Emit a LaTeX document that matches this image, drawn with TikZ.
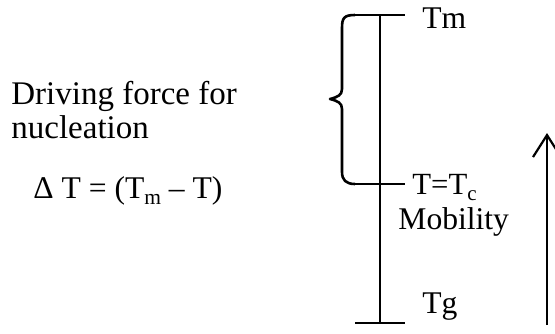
\documentclass[tikz,border=0pt]{standalone}
\usepackage{fontspec}
\setmainfont{Liberation Serif}
\usetikzlibrary{arrows.meta}
\newcommand{\lowsub}[1]{\raisebox{-0.22em}{\fontsize{0.68em}{1em}\selectfont #1}}
\tikzset{
  lbl/.style={anchor=base west, inner sep=0pt, font=\fontsize{15.8pt}{19pt}\selectfont},
  lblbig/.style={anchor=base west, inner sep=0pt, font=\fontsize{16.5pt}{19pt}\selectfont},
  lblsmall/.style={anchor=base west, inner sep=0pt, font=\fontsize{15.4pt}{18pt}\selectfont},
  bar/.style={line width=1.4pt},
  bracestyle/.style={line width=1.3pt, line join=round},
  updir/.style={line width=1.1pt, -{Straight Barb[length=11pt,width=14pt,line width=1.1pt]}}
}
\begin{document}
\begin{tikzpicture}[x=0.5pt,y=-0.5pt]
\useasboundingbox (0,0) rectangle (555,333);
% coordinates
\coordinate (top) at (380,15);
\coordinate (bot) at (380,323);
\coordinate (tl) at (355,15);  \coordinate (tr) at (405,15);
\coordinate (ml) at (355,184); \coordinate (mr) at (405,184);
\coordinate (bl) at (355,323); \coordinate (br) at (405,323);
\coordinate (a0) at (547,325); \coordinate (a1) at (547,133);
% main scale
\draw[bar] (top) -- (bot);
\draw[bar] (tl) -- (tr);
\draw[bar] (ml) -- (mr);
\draw[bar] (bl) -- (br);
% brace
\draw[bracestyle] (tl) .. controls (344,15) and (342,18) .. (342,28)
  -- (342,89) .. controls (342,95) and (338,97) .. (330,99)
  .. controls (338,101) and (342,103) .. (342,109)
  -- (342,172) .. controls (342,180) and (346,184) .. (ml);
% arrow
\draw[updir] (a0) -- (a1);
% labels
\node[lblbig] (t1) at (11,104) {Driving force for};
\node[lblbig] (t2) at (11,138) {nucleation};
\node[lbl] (t3) at (33,198) {Δ T = (T\lowsub{m} – T)};
\node[lbl] (tm) at (422,28) {Tm};
\node[lblsmall] (tc) at (412,194) {T=T\lowsub{c}};
\node[lbl] (mob) at (398,229) {Mobility};
\node[lbl] (tg) at (422,313) {Tg};
\end{tikzpicture}
\end{document}
